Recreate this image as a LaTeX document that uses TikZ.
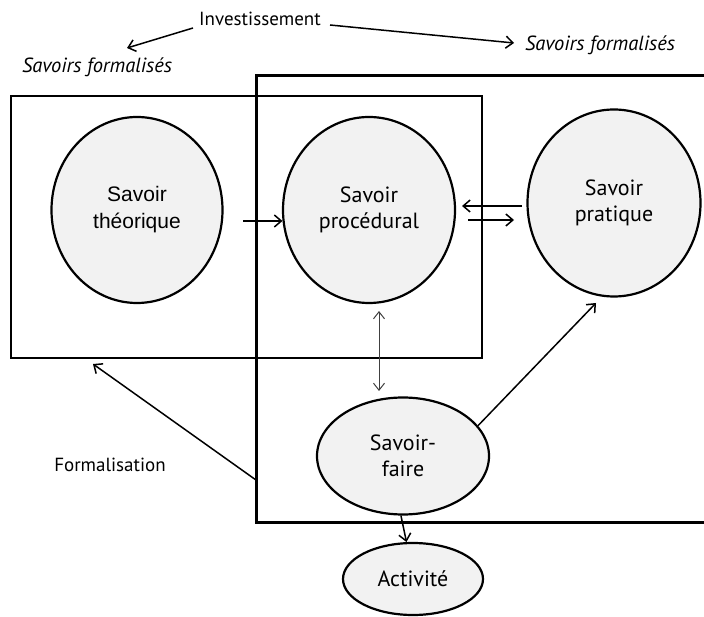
\documentclass[tikz,border=0pt]{standalone}
\usepackage{fontspec}
\setmainfont{PT Sans}
\newfontfamily\arialike{Liberation Sans}
\usetikzlibrary{shapes.geometric,arrows.meta,calc}

\begin{document}
\begin{tikzpicture}[x=1pt,y=-1pt,
  bubble/.style={ellipse,draw,line width=2.2pt,fill=gray!10,inner sep=0pt,
    align=center,font=\fontsize{22}{26}\selectfont},
  arr/.style={-{Straight Barb[length=7pt,width=12pt,line width=1.5pt]},line width=1.5pt},
  thinarr/.style={{Straight Barb[length=7pt,width=11pt,line width=1pt]}-{Straight Barb[length=7pt,width=11pt,line width=1pt]},
    line width=1pt,draw=black!75},
  label/.style={inner sep=0pt,font=\fontsize{19}{22}\selectfont},
  ilabel/.style={inner sep=0pt,font=\fontsize{20.5}{24}\selectfont\itshape}
]
\useasboundingbox (0,0) rectangle (704,617);
\clip (0,0) rectangle (704,617);

% frames
\draw[line width=1.7pt] (11,96) rectangle (482,358);
\draw[line width=3pt] (256,76) rectangle (730,522);

% knowledge bubbles
\node[bubble,minimum width=171pt,minimum height=186pt,font=\arialike\fontsize{21}{27}\selectfont]
  (theo) at (137,210) {Savoir\\théorique};
\node[bubble,minimum width=172pt,minimum height=186pt] (proc) at (369,210) {Savoir\\procédural};
\node[bubble,minimum width=173pt,minimum height=187pt] (prat) at (614,203) {Savoir\\pratique};
\node[bubble,minimum width=172pt,minimum height=117pt] (faire) at (403,456) {Savoir-\\faire};
\node[bubble,minimum width=140pt,minimum height=72pt] (act) at (413,579) {Activité};

% labels
\node[label] (inv) at (260,19) {Investissement};
\node[ilabel] (sfl) at (97,67) {Savoirs formalisés};
\node[ilabel] (sfr) at (600,45) {Savoirs formalisés};
\node[label] (form) at (110,465) {Formalisation};

% free ends of connectors
\coordinate (invl) at (193,28);
\coordinate (invlt) at (127,48);
\coordinate (invr) at (330,25);
\coordinate (invrt) at (514,43);
\coordinate (tp) at (243,221);
\coordinate (pa) at (522,206);
\coordinate (pat) at (462,206);
\coordinate (pb) at (468,220);
\coordinate (pbt) at (514,220);
\coordinate (va) at (379,311);
\coordinate (vb) at (379,391);
\coordinate (fpt) at (596,303);
\coordinate (fa) at (256,480);
\coordinate (fat) at (93,364);

% connectors
\draw[arr] (invl) -- (invlt);
\draw[arr] (invr) -- (invrt);
\draw[arr] (tp) -- (tp -| proc.187);
\draw[arr] (pa) -- (pat);
\draw[arr] (pb) -- (pbt);
\draw[thinarr] (va) -- (vb);
\draw[arr] (faire.22) -- (fpt);
\draw[arr] (fa) -- (fat);
\draw[arr] (faire.268) -- (act.100);
\end{tikzpicture}
\end{document}
